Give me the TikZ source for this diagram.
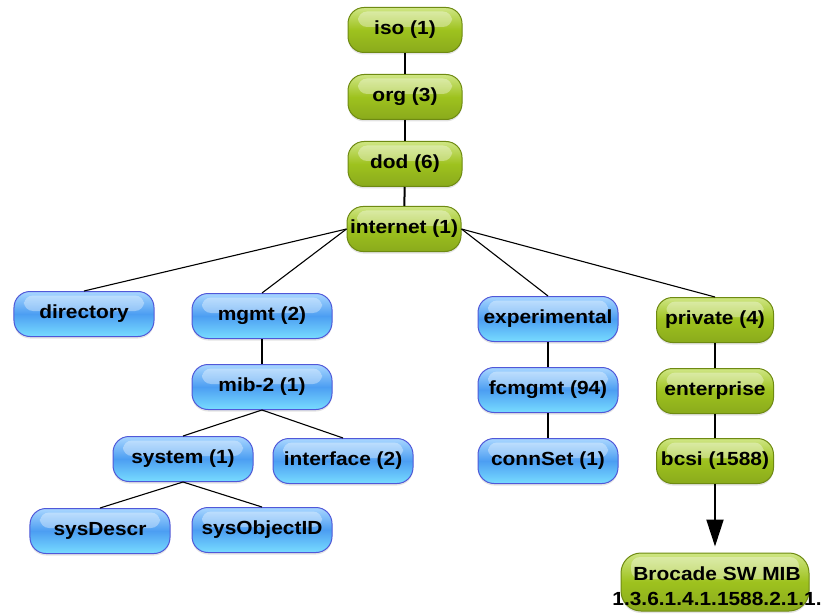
\documentclass[tikz,border=0pt]{standalone}
\usepackage{fontspec}
\setmainfont{Liberation Sans}[FakeStretch=1.1]
\usetikzlibrary{arrows.meta,shadows}
\definecolor{gtop}{HTML}{CFE684}
\definecolor{gmid}{HTML}{9EC21E}
\definecolor{gbot}{HTML}{8AAA1C}
\definecolor{gborder}{HTML}{6E8A12}
\definecolor{btop}{HTML}{A8D6FF}
\definecolor{bmid}{HTML}{4C9EF2}
\definecolor{bbot}{HTML}{78DCFF}
\definecolor{bborder}{HTML}{5058D8}
\tikzset{
  base/.style={rounded corners=16bp, minimum height=45bp, inner sep=0pt,
    text height=13bp, text depth=4bp,
    font=\bfseries\fontsize{19bp}{21bp}\selectfont, line width=1bp, text=black,
    drop shadow={opacity=0.22, shadow xshift=0bp, shadow yshift=-2bp},
    path picture={\fill[white,opacity=0.35,rounded corners=9bp]
      ([xshift=10bp,yshift=-4bp]path picture bounding box.north west) rectangle
      ([xshift=-10bp,yshift=3bp]path picture bounding box.east);}},
  gnode/.style={base, draw=gborder, top color=gtop, bottom color=gbot, middle color=gmid, minimum width=114bp},
  bnode/.style={base, draw=bborder, top color=btop, bottom color=bbot, middle color=bmid, minimum width=140bp},
  vline/.style={line width=2bp},
  dline/.style={line width=1.1bp}
}
\begin{document}
\begin{tikzpicture}[x=1bp,y=-1bp]
\useasboundingbox (0,0) rectangle (827,614);
% green chain
\node[gnode] (iso) at (405,30) {iso (1)};
\node[gnode] (org) at (405,97) {org (3)};
\node[gnode] (dod) at (405,164) {dod (6)};
\node[gnode] (internet) at (404,229) {internet (1)};
% blue left
\node[bnode] (directory) at (84,314) {directory};
\node[bnode] (mgmt) at (262,316) {mgmt (2)};
\node[bnode] (mib2) at (262,387) {mib-2 (1)};
\node[bnode] (system) at (183,459) {system (1)};
\node[bnode] (interface) at (343,461) {interface (2)};
\node[bnode] (sysdescr) at (100,531) {sysDescr};
\node[bnode] (sysobj) at (262,530) {sysObjectID};
% experimental
\node[bnode] (experimental) at (548,319) {experimental};
\node[bnode] (fcmgmt) at (548,390) {fcmgmt (94)};
\node[bnode] (connset) at (548,461) {connSet (1)};
% private
\node[gnode, minimum width=117bp] (private) at (715,320) {private (4)};
\node[gnode, minimum width=117bp] (enterprise) at (715,391) {enterprise};
\node[gnode, minimum width=117bp] (bcsi) at (715,461) {bcsi (1588)};
\node[gnode, minimum width=188bp, minimum height=58bp, rounded corners=20bp, text height=, text depth=] (brocade) at (715,582) {};
\node[font=\bfseries\fontsize{19bp}{25bp}\selectfont, align=center, inner sep=0pt] (brocadetext) at (717,586) {Brocade SW MIB\\1.3.6.1.4.1.1588.2.1.1.};
% connectors
\draw[vline] (iso) -- (org);
\draw[vline] (org) -- (dod);
\draw[vline] (dod) -- (internet);
\draw[dline] (internet.west) -- (directory.north);
\draw[dline] (internet.west) -- (mgmt.north);
\draw[dline] (internet.east) -- (experimental.north);
\draw[dline] (internet.east) -- (private.north);
\draw[vline] (mgmt) -- (mib2);
\draw[dline] (mib2.south) -- (system.north);
\draw[dline] (mib2.south) -- (interface.north);
\draw[dline] (system.south) -- (sysdescr.north);
\draw[dline] (system.south) -- (sysobj.north);
\draw[vline] (experimental) -- (fcmgmt);
\draw[vline] (fcmgmt) -- (connset);
\draw[vline] (private) -- (enterprise);
\draw[vline] (enterprise) -- (bcsi);
\draw[vline, -{Triangle[length=27bp,width=17bp]}, shorten >=6bp] (bcsi) -- (brocade);
\end{tikzpicture}
\end{document}
